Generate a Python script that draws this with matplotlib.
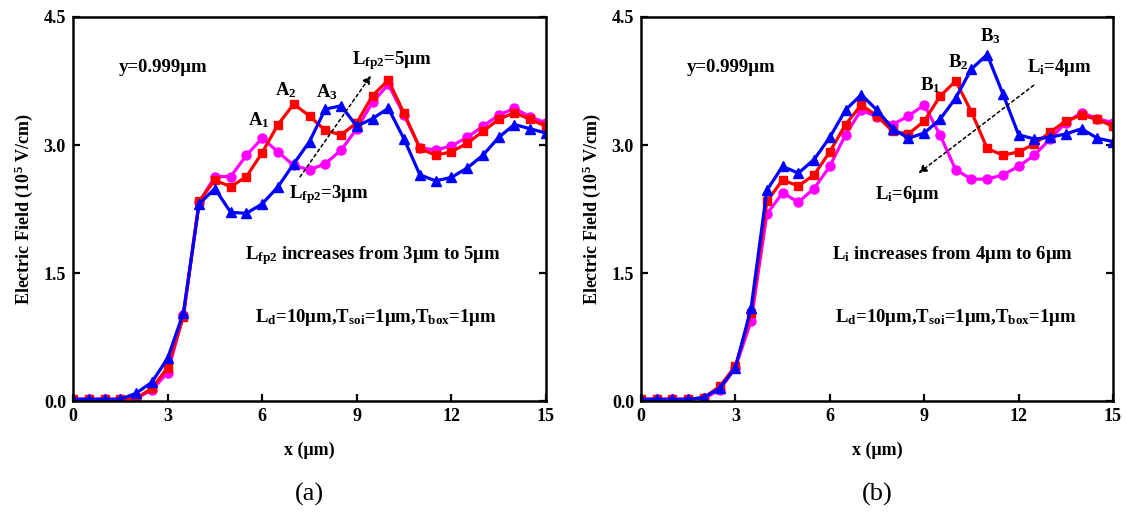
import numpy as np
import matplotlib
matplotlib.use("Agg")
import matplotlib.pyplot as plt

plt.rcParams['font.family'] = ['Liberation Serif', 'DejaVu Serif']
plt.rcParams['font.weight'] = 'bold'
plt.rcParams['mathtext.fontset'] = 'custom'
plt.rcParams['mathtext.rm'] = 'Liberation Serif:bold'
plt.rcParams['mathtext.bf'] = 'Liberation Serif:bold'
plt.rcParams['mathtext.it'] = 'Liberation Serif:bold'
plt.rcParams['mathtext.default'] = 'bf'

# x positions (um), every 0.5 um
x = np.arange(0, 15.01, 0.5)

# (a) L_fp2 = 3, 4, 5 um
a_mag = [0.02, 0.02, 0.02, 0.02, 0.03, 0.13, 0.33, 1.01, 2.33, 2.63, 2.63,
         2.88, 3.08, 2.92, 2.76, 2.71, 2.78, 2.94, 3.19, 3.50, 3.71, 3.35,
         2.97, 2.94, 2.99, 3.09, 3.22, 3.35, 3.43, 3.33, 3.26]
a_red = [0.02, 0.02, 0.02, 0.02, 0.03, 0.15, 0.39, 0.99, 2.34, 2.59, 2.51,
         2.63, 2.91, 3.24, 3.48, 3.34, 3.17, 3.12, 3.26, 3.58, 3.76, 3.37,
         2.96, 2.88, 2.92, 3.02, 3.16, 3.30, 3.38, 3.30, 3.22]
a_blue = [0.02, 0.02, 0.02, 0.02, 0.09, 0.22, 0.50, 1.03, 2.31, 2.49, 2.21,
          2.20, 2.31, 2.51, 2.78, 3.04, 3.42, 3.46, 3.22, 3.31, 3.43, 3.07,
          2.65, 2.58, 2.62, 2.73, 2.88, 3.09, 3.24, 3.19, 3.14]

# (b) L_i = 6, 5, 4 um
b_mag = [0.02, 0.02, 0.02, 0.02, 0.03, 0.13, 0.39, 0.94, 2.19, 2.44, 2.33,
         2.49, 2.75, 3.12, 3.41, 3.33, 3.24, 3.34, 3.47, 3.12, 2.71, 2.60,
         2.60, 2.65, 2.75, 2.88, 3.07, 3.26, 3.38, 3.31, 3.26]
b_red = [0.02, 0.02, 0.02, 0.02, 0.04, 0.17, 0.41, 1.03, 2.34, 2.59, 2.52,
         2.65, 2.92, 3.24, 3.47, 3.34, 3.16, 3.13, 3.28, 3.57, 3.75, 3.39,
         2.96, 2.88, 2.92, 3.01, 3.15, 3.28, 3.35, 3.30, 3.22]
b_blue = [0.02, 0.02, 0.02, 0.02, 0.04, 0.15, 0.39, 1.09, 2.47, 2.75, 2.67,
          2.83, 3.09, 3.41, 3.59, 3.41, 3.19, 3.08, 3.14, 3.30, 3.55, 3.89,
          4.06, 3.60, 3.12, 3.07, 3.09, 3.13, 3.19, 3.08, 3.04]

xticks = [0, 3, 6, 9, 12, 15]
yticks = [0.0, 1.5, 3.0, 4.5]

fig = plt.figure(figsize=(11.27, 5.15), dpi=100)
ax_a = fig.add_axes([73 / 1127, 1 - 401 / 515, 473 / 1127, 384 / 515])
ax_b = fig.add_axes([641 / 1127, 1 - 401 / 515, 472 / 1127, 384 / 515])

lw = 2.3
ms = 6.5
fs = 13.5


def style_axes(ax):
    ax.set_xlim(0, 15)
    ax.set_ylim(0, 4.5)
    ax.set_xticks(xticks)
    ax.set_yticks(yticks)
    ax.set_yticklabels([f"{v:.1f}" for v in yticks])
    ax.tick_params(direction='in', length=5, width=1.6, labelsize=13,
                   right=True, top=False, pad=5)
    for lab in ax.get_xticklabels() + ax.get_yticklabels():
        lab.set_fontweight('bold')
    for sp in ax.spines.values():
        sp.set_linewidth(1.8)
    ax.set_xlabel("x (μm)", fontsize=13, fontweight='bold', labelpad=12)
    ax.set_ylabel("Electric Field (10$^5$ V/cm)", fontsize=13,
                  fontweight='bold', labelpad=6)


# Panel (a)
ax_a.plot(x, a_mag, '-o', color='#ff00ff', lw=lw, ms=ms)
ax_a.plot(x, a_red, '-s', color='#ff0000', lw=lw, ms=ms - 0.5)
ax_a.plot(x, a_blue, '-^', color='#0000ff', lw=lw, ms=ms + 0.5)
style_axes(ax_a)

ax_a.text(1.45, 3.85, "y=0.999μm", fontsize=13.5, fontweight='bold')
ax_a.text(5.9, 3.23, "A$_1$", fontsize=fs, ha='center')
ax_a.text(6.75, 3.58, "A$_2$", fontsize=fs, ha='center')
ax_a.text(8.05, 3.56, "A$_3$", fontsize=fs, ha='center')
ax_a.text(8.86, 3.95, "L$_{fp2}$=5μm", fontsize=fs)
ax_a.text(6.85, 2.38, "L$_{fp2}$=3μm", fontsize=fs)
ax_a.annotate("", xy=(9.5, 3.84), xytext=(7.15, 2.6),
              arrowprops=dict(arrowstyle='-|>', linestyle=(0, (2, 2)),
                              color='black', lw=1.1, mutation_scale=12))
ax_a.text(9.5, 1.66, "L$_{fp2}$ increases from 3μm to 5μm", fontsize=fs,
          ha='center')
ax_a.text(9.6, 0.92, "L$_{d}$=10μm,T$_{soi}$=1μm,T$_{box}$=1μm",
          fontsize=fs, ha='center')

# Panel (b)
ax_b.plot(x, b_mag, '-o', color='#ff00ff', lw=lw, ms=ms)
ax_b.plot(x, b_red, '-s', color='#ff0000', lw=lw, ms=ms - 0.5)
ax_b.plot(x, b_blue, '-^', color='#0000ff', lw=lw, ms=ms + 0.5)
style_axes(ax_b)

ax_b.text(1.46, 3.85, "y=0.999μm", fontsize=13.5, fontweight='bold')
ax_b.text(9.2, 3.64, "B$_1$", fontsize=fs, ha='center')
ax_b.text(10.1, 3.91, "B$_2$", fontsize=fs, ha='center')
ax_b.text(11.1, 4.21, "B$_3$", fontsize=fs, ha='center')
ax_b.text(12.27, 3.85, "L$_{i}$=4μm", fontsize=fs)
ax_b.text(7.45, 2.37, "L$_{i}$=6μm", fontsize=fs)
ax_b.annotate("", xy=(8.75, 2.65), xytext=(12.55, 3.72),
              arrowprops=dict(arrowstyle='-|>', linestyle=(0, (2, 2)),
                              color='black', lw=1.1, mutation_scale=12))
ax_b.text(9.9, 1.66, "L$_{i}$ increases from 4μm to 6μm", fontsize=fs,
          ha='center')
ax_b.text(10.0, 0.92, "L$_{d}$=10μm,T$_{soi}$=1μm,T$_{box}$=1μm",
          fontsize=fs, ha='center')

fig.text(309 / 1127, 1 - 494 / 515, "(a)", fontsize=19, fontweight='normal',
         ha='center', va='center')
fig.text(877 / 1127, 1 - 494 / 515, "(b)", fontsize=19, fontweight='normal',
         ha='center', va='center')

fig.savefig("out.png", dpi=100)
